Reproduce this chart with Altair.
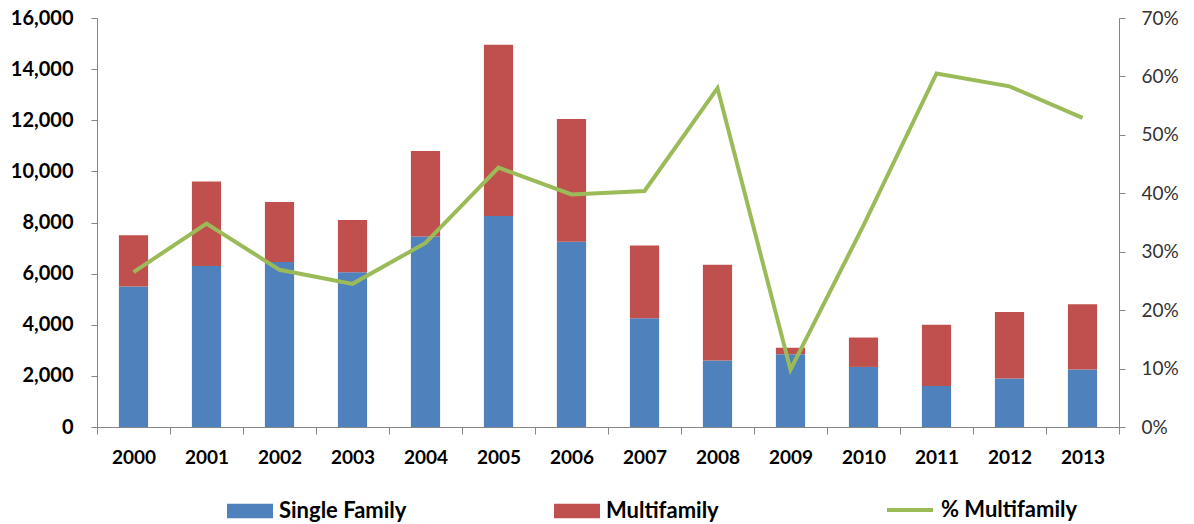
import altair as alt
import pandas as pd

# Housing units permitted per year, split by building type
years = [str(y) for y in range(2000, 2014)]
single_family = [5500, 6300, 6450, 6050, 7450, 8250, 7250, 4250, 2600, 2850, 2350, 1600, 1900, 2250]
multifamily = [2000, 3300, 2350, 2050, 3350, 6700, 4800, 2850, 3750, 250, 1150, 2400, 2600, 2550]
pct_multifamily = [0.265, 0.348, 0.269, 0.245, 0.315, 0.444, 0.398, 0.404,
                   0.580, 0.098, 0.345, 0.605, 0.583, 0.529]

series_names = ["Single Family", "Multifamily"]
bar_colors = ["#4F81BD", "#C0504D"]
line_name = "% Multifamily"
line_color = "#9BBB59"

left_ticks = [0, 2000, 4000, 6000, 8000, 10000, 12000, 14000, 16000]
right_ticks = [0, 0.1, 0.2, 0.3, 0.4, 0.5, 0.6, 0.7]

FONT = "Lato"
AXIS_GREY = "#868686"

bars_df = pd.DataFrame({
    "year": years * 2,
    "series": [series_names[0]] * len(years) + [series_names[1]] * len(years),
    "units": single_family + multifamily,
    "stack": [0] * len(years) + [1] * len(years),
})
line_df = pd.DataFrame({"year": years, "series": line_name, "pct": pct_multifamily})

x_enc = alt.X(
    "year:N",
    scale=alt.Scale(paddingInner=0, paddingOuter=0),
    axis=alt.Axis(
        title=None, labelAngle=0, tickBand="extent", tickSize=7,
        labelPadding=14, labelFontWeight="bold", labelColor="#000000",
    ),
)

bars = alt.Chart(bars_df).mark_bar(width=alt.RelativeBandSize(0.4)).encode(
    x=x_enc,
    y=alt.Y(
        "units:Q",
        stack="zero",
        scale=alt.Scale(domain=[0, 16000], nice=False),
        axis=alt.Axis(
            title=None, values=left_ticks, format=",.0f", labelPadding=18,
            labelFontWeight="bold", labelColor="#000000", labelFontSize=20,
        ),
    ),
    color=alt.Color(
        "series:N",
        scale=alt.Scale(domain=series_names, range=bar_colors),
        legend=alt.Legend(
            title=None, orient="none", direction="horizontal",
            legendX=130, legendY=470, columnPadding=147,
            symbolType="M-1,-0.32H1V0.32H-1Z", symbolSize=2116,
            symbolStrokeWidth=0, labelOffset=6,
        ),
    ),
    order=alt.Order("stack:Q"),
)

line = alt.Chart(line_df).mark_line(strokeWidth=4).encode(
    x=alt.X("year:N"),
    y=alt.Y(
        "pct:Q",
        scale=alt.Scale(domain=[0, 0.7], nice=False),
        axis=alt.Axis(
            title=None, orient="right", values=right_ticks, format=".0%",
            labelPadding=16, labelColor="#333333", labelFontWeight="normal",
        ),
    ),
    stroke=alt.Stroke(
        "series:N",
        scale=alt.Scale(domain=[line_name], range=[line_color]),
        legend=alt.Legend(
            title=None, orient="none", direction="horizontal",
            legendX=788, legendY=467, symbolType="stroke", symbolSize=2116,
            symbolStrokeWidth=4, labelOffset=6,
        ),
    ),
)

chart = (
    alt.layer(bars, line)
    .resolve_scale(y="independent", color="independent")
    .properties(
        width=1022,
        height=409,
        autosize=alt.AutoSizeParams(type="none"),
        padding={"left": 97, "top": 18, "right": 75, "bottom": 97},
        background="#ffffff",
    )
    .configure_view(stroke=None)
    .configure_axis(
        grid=False,
        domainColor=AXIS_GREY,
        tickColor=AXIS_GREY,
        tickSize=6,
        labelFont=FONT,
        labelFontSize=19,
    )
    .configure_legend(
        padding=0,
        labelFont=FONT,
        labelFontSize=22,
        labelFontWeight="bold",
        labelColor="#000000",
        labelLimit=400,
    )
)

chart.save("out.html", embed_options={"renderer": "svg", "actions": False})
